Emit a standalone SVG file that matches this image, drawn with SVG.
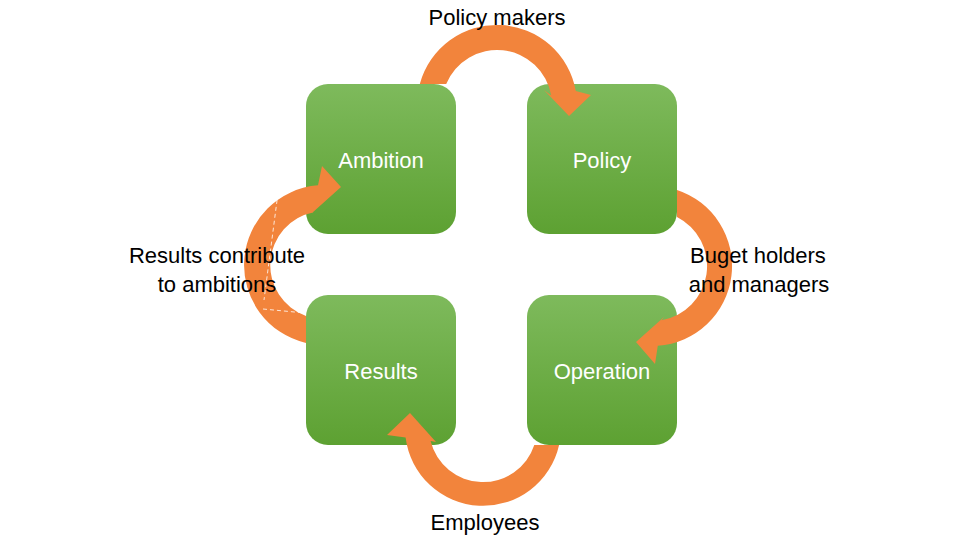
<svg xmlns="http://www.w3.org/2000/svg" width="960" height="540" viewBox="0 0 960 540">
<defs>
<linearGradient id="g" x1="0" y1="0" x2="0" y2="1">
<stop offset="0" stop-color="#7eba5c"/>
<stop offset="1" stop-color="#5da132"/>
</linearGradient>
<style>
.box{fill:url(#g)}
.arr{fill:#f2843c}
.lbl{font-family:"Liberation Sans",Arial,sans-serif;font-size:22px;fill:#ffffff;text-anchor:middle}
.txt{font-family:"Liberation Sans",Arial,sans-serif;font-size:22px;fill:#000000;text-anchor:middle}
.seam{fill:none;stroke:#ffffff;stroke-width:1;stroke-dasharray:4 3;opacity:0.8}
</style>
</defs>
<rect width="960" height="540" fill="#ffffff"/>
<g id="ambition"><rect class="box" x="306" y="84" width="150" height="150" rx="22"/><text class="lbl" x="381" y="168">Ambition</text></g>
<g id="policy"><rect class="box" x="527" y="84" width="150" height="150" rx="22"/><text class="lbl" x="602" y="168">Policy</text></g>
<g id="results"><rect class="box" x="306" y="295" width="150" height="150" rx="22"/><text class="lbl" x="381" y="379">Results</text></g>
<g id="operation"><rect class="box" x="527" y="295" width="150" height="150" rx="22"/><text class="lbl" x="602" y="379">Operation</text></g>
<g id="connectors">
<path class="arr" d="M419.8,84 A80,80 0 0 1 575.8,91.1 L591,95 L569,116 L544,90 L551.2,95.4 A55,55 0 0 0 446.2,84 Z"/>
<path class="arr" d="M677,190 A80,80 0 0 1 657.8,345.8 L655,364 L636,342 L664,317 L661.6,320.2 A55,55 0 0 0 677,217 Z"/>
<path class="arr" d="M559.1,445 A78,78 0 0 1 405.6,437.5 L387,435 L410,413 L436,442 L430.6,441.1 A54,54 0 0 0 534.3,445 Z"/>
<path class="arr" d="M306,343 A80,80 0 0 1 318,185.3 L322,166 L341,187 L312,213 L313.8,212.2 A54,54 0 0 0 306,316 Z"/>
<path class="seam" d="M278,193 L264,300 M263,309 L305,313"/>
</g>
<g id="labels">
<text class="txt" x="497" y="25">Policy makers</text>
<text class="txt" x="217" y="263">Results contribute</text>
<text class="txt" x="217" y="292">to ambitions</text>
<text class="txt" x="758" y="263">Buget holders</text>
<text class="txt" x="759" y="292">and managers</text>
<text class="txt" x="485" y="530">Employees</text>
</g>
</svg>
